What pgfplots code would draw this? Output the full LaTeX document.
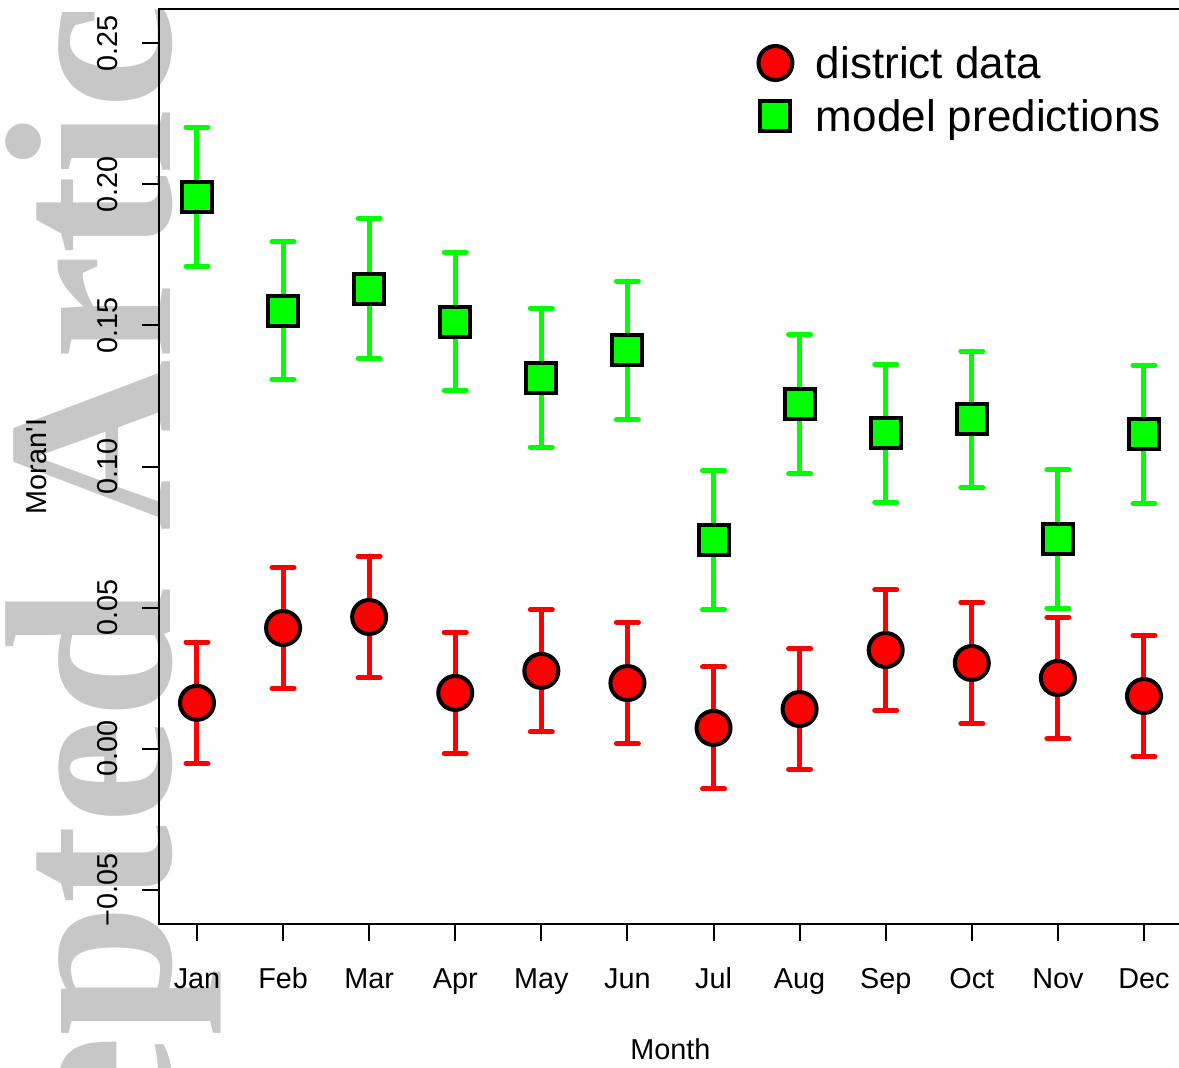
\documentclass[border=0pt]{standalone}
\usepackage{pgfplots}
\pgfplotsset{compat=1.18}
\usepackage{pgfplotstable}
\usepackage{fontspec}
\setmainfont{Liberation Sans}[Ligatures=TeXOff]
\newfontfamily\wmfont{Liberation Serif}
\definecolor{wm}{RGB}{199,199,199}
\definecolor{rred}{RGB}{255,0,0}
\definecolor{rgreen}{RGB}{0,255,0}

\pgfplotstableread{
x y e
1 0.0163 0.0215
2 0.0428 0.0214
3 0.0467 0.0216
4 0.0198 0.0215
5 0.0276 0.0216
6 0.0233 0.0215
7 0.0074 0.0216
8 0.0141 0.0214
9 0.0350 0.0214
10 0.0304 0.0214
11 0.0251 0.0215
12 0.0187 0.0215
}\district

\pgfplotstableread{
x y e
1 0.1955 0.0246
2 0.1552 0.0244
3 0.1630 0.0249
4 0.1513 0.0244
5 0.1315 0.0246
6 0.1411 0.0246
7 0.0739 0.0246
8 0.1220 0.0246
9 0.1117 0.0244
10 0.1167 0.0242
11 0.0743 0.0246
12 0.1114 0.0245
}\model

\begin{document}
\begin{tikzpicture}
\useasboundingbox (0,0) rectangle (471.6pt,427.2pt);
% watermark
\node[rotate=90, anchor=base west, inner sep=0pt, text=wm,
      font=\wmfont\bfseries\fontsize{95}{95}\selectfont] at (68pt,214.4pt) {Article};
\node[rotate=90, anchor=base east, inner sep=0pt, text=wm,
      font=\wmfont\bfseries\fontsize{95}{95}\selectfont] at (68pt,192.4pt) {Accepted};
\begin{axis}[
  at={(63.64pt,57.64pt)}, anchor=south west,
  scale only axis, width=409.1pt, height=365.9pt,
  xmin=0.56, xmax=12.44, ymin=-0.062, ymax=0.262,
  axis line style={line width=0.8pt, black},
  xtick={1,...,12},
  xticklabels={Jan,Feb,Mar,Apr,May,Jun,Jul,Aug,Sep,Oct,Nov,Dec},
  ytick={-0.05,0,0.05,0.10,0.15,0.20,0.25},
  yticklabels={−0.05,0.00,0.05,0.10,0.15,0.20,0.25},
  xtick pos=lower, ytick pos=left,
  tick align=outside, major tick length=6.8pt,
  tick style={line width=0.8pt, black},
  ticklabel style={font=\fontsize{11.52}{13}\selectfont, inner sep=0pt},
  xticklabel style={anchor=base},
  xticklabel shift=19.2pt,
  yticklabel style={rotate=90, anchor=base},
  yticklabel shift=10pt,
  xlabel={Month}, ylabel={Moran'I},
  every axis x label/.style={at={([yshift=-54.4pt]axis description cs:0.5,0)}, anchor=base, inner sep=0pt, font=\fontsize{11.52}{13}\selectfont},
  every axis y label/.style={at={([xshift=-44.9pt]axis description cs:0,0.5)}, rotate=90, anchor=base, inner sep=0pt, font=\fontsize{11.52}{13}\selectfont},
  legend style={at={(axis cs:7.493,0.2500)}, anchor=north west, draw=none, fill=none,
    inner sep=0pt, outer sep=0pt, row sep=0pt,
    font=\fontsize{17.6}{20}\selectfont,
    nodes={inner sep=0pt, text height=14pt, text depth=7.2pt},
    cells={anchor=base west}},
  legend image code/.code={\path (-7.6pt,6pt) (16pt,6pt); \draw[#1] plot coordinates {(0pt,6pt)};},
]
% error bars
\addplot[draw=none, mark=none, forget plot,
  error bars/.cd, y dir=both, y explicit,
  error bar style={draw=rred, line width=2pt, line cap=round},
  error mark options={draw=rred, rotate=90, mark size=4.4pt, line width=2pt, line cap=round}]
  table[x=x, y=y, y error=e]{\district};
\addplot[draw=none, mark=none, forget plot,
  error bars/.cd, y dir=both, y explicit,
  error bar style={draw=rgreen, line width=2pt, line cap=round},
  error mark options={draw=rgreen, rotate=90, mark size=4.4pt, line width=2pt, line cap=round}]
  table[x=x, y=y, y error=e]{\model};
% markers
\addplot[only marks, mark=*, mark size=6.8pt,
  mark options={fill=rred, draw=black, line width=1.6pt}]
  table[x=x, y=y]{\district};
\addlegendentry{district data}
\addplot[only marks, mark=square*, mark size=6pt,
  mark options={fill=rgreen, draw=black, line width=1.6pt}]
  table[x=x, y=y]{\model};
\addlegendentry{model predictions}
\end{axis}
\end{tikzpicture}
\end{document}
